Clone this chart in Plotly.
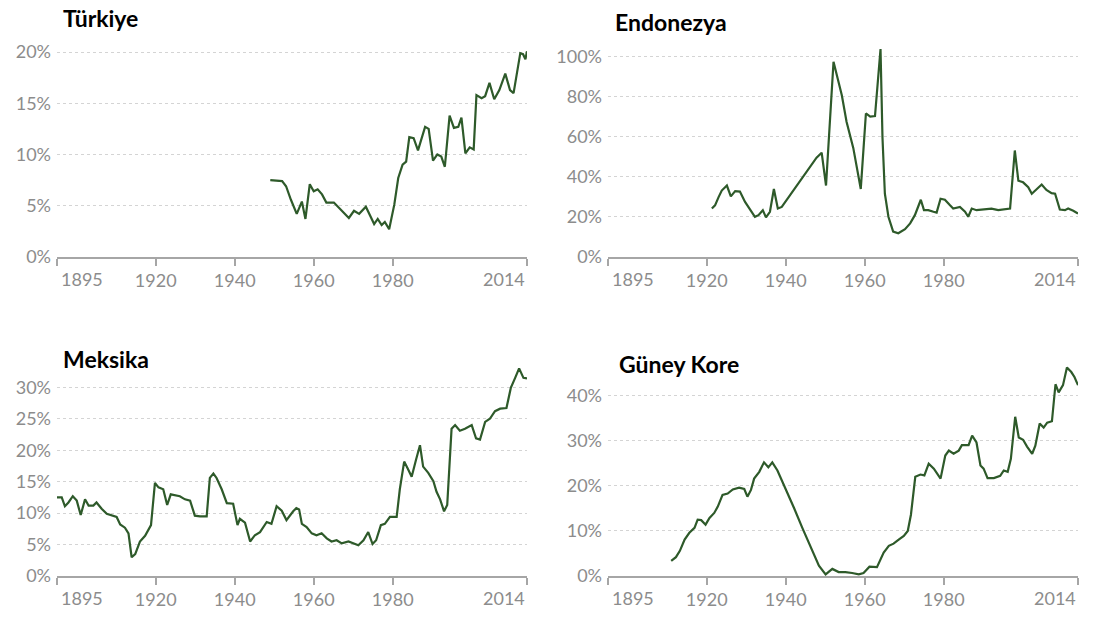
import plotly.graph_objects as go

# ---------------- data (values in %) ----------------
turkiye_years = [1949, 1952, 1953, 1954.2, 1955.7, 1957, 1957.9, 1959, 1960, 1961, 1962.1, 1963.2, 1965.1,
                 1966.8, 1968.9, 1970.2, 1971.5, 1973.2, 1974.5, 1975.3, 1976.2, 1977.2, 1978, 1979.1,
                 1980.4, 1981.4, 1982.5, 1983.4, 1984.2, 1985.3, 1986.4, 1987.2, 1988.2, 1989.1, 1990.2,
                 1991.3, 1992.3, 1993.2, 1994.4, 1995.5, 1996.6, 1997.4, 1998.4, 1999.5, 2000.5, 2001.2,
                 2002.5, 2003.4, 2004.5, 2005.7, 2007, 2008.5, 2009.7, 2010.6, 2012.3, 2013, 2013.6, 2014]
turkiye_vals = [7.5, 7.4, 6.9, 5.6, 4.2, 5.4, 3.7, 7.1, 6.4, 6.6, 6.1, 5.3, 5.3,
                4.6, 3.8, 4.5, 4.2, 4.9, 3.8, 3.2, 3.7, 3.1, 3.4, 2.7,
                5.1, 7.7, 9.0, 9.3, 11.7, 11.6, 10.4, 11.5, 12.7, 12.5, 9.4,
                10.0, 9.8, 8.8, 13.8, 12.6, 12.7, 13.6, 10.1, 10.7, 10.5, 15.8,
                15.5, 15.7, 17.0, 15.4, 16.3, 17.9, 16.3, 16.0, 19.9, 19.8, 19.3, 20.1]

endonezya_years = [1921.3, 1922.1, 1923, 1923.8, 1925.1, 1926.1, 1927.2, 1928.4, 1929.7, 1931, 1932.2,
                   1933.1, 1934.2, 1935, 1936, 1937, 1938, 1939, 1941.1, 1943.6, 1946.2, 1947.8, 1949.1,
                   1950.2, 1952.1, 1953.2, 1954.2, 1955.4, 1957.1, 1959, 1960.3, 1961.4, 1962.6, 1964,
                   1964.5, 1965.1, 1966, 1967.2, 1968.5, 1970.2, 1971.5, 1972.7, 1974.2, 1975, 1976.1,
                   1977.4, 1978.2, 1979.2, 1980.3, 1981.6, 1982.4, 1984.1, 1985.4, 1986.2, 1987.1, 1988.3,
                   1990, 1992.1, 1993.8, 1995.5, 1996.8, 1998, 1998.9, 2000.1, 2001.4, 2002.3, 2003.5,
                   2004.8, 2006, 2007.3, 2008.2, 2009.4, 2010.7, 2011.5, 2012.8, 2014]
endonezya_vals = [24.1, 25.7, 29.8, 33.1, 35.6, 30.2, 32.8, 32.6, 27.4, 23.3, 20.0,
                  20.8, 23.3, 19.7, 22.5, 33.9, 24.1, 24.9, 30.7, 38.0, 44.6, 49.5, 52.0,
                  35.6, 97.4, 88.9, 80.7, 67.5, 54.4, 33.9, 71.6, 70.0, 70.3, 103.8,
                  59.3, 31.5, 20.0, 12.6, 11.8, 13.8, 16.7, 20.8, 28.5, 23.3, 23.3,
                  22.5, 22.1, 29.0, 28.5, 25.7, 24.1, 24.9, 22.5, 20.0, 24.1, 23.3,
                  23.6, 24.1, 23.3, 23.6, 24.1, 53.1, 38.0, 37.2, 34.8, 31.5, 33.9,
                  36.1, 33.4, 31.8, 31.5, 23.6, 23.3, 24.1, 23.0, 21.6]

meksika_years = [1895, 1896.2, 1897, 1897.9, 1899, 1900, 1901, 1902.1, 1903, 1904.2, 1905, 1906.3,
                 1907.6, 1908.8, 1910.1, 1911, 1912.2, 1913.1, 1913.9, 1914.8, 1916, 1917.3, 1918.8,
                 1919.8, 1920.7, 1921.9, 1922.9, 1923.8, 1924.9, 1926.1, 1927.4, 1928.7, 1929.9,
                 1931.2, 1932.9, 1933.7, 1934.6, 1935.4, 1936.7, 1938, 1939.6, 1940.7, 1941.3, 1942.6,
                 1943.9, 1945.1, 1946.4, 1948.1, 1949.3, 1950.6, 1951.9, 1953.1, 1954.8, 1955.6,
                 1956.3, 1957, 1958.2, 1959.5, 1960.7, 1962, 1963.3, 1964.5, 1965.8, 1967.1, 1968.8,
                 1970, 1971.3, 1972.6, 1973.8, 1974.9, 1975.8, 1977, 1978, 1979.3, 1981, 1981.8,
                 1982.9, 1983.7, 1984.8, 1985.9, 1986.9, 1987.7, 1989, 1990.3, 1991.1, 1992, 1993,
                 1993.8, 1994.9, 1995.8, 1997, 1998.3, 2000, 2001.1, 2002.1, 2003.4, 2004.6, 2005.9,
                 2007.2, 2008.8, 2009.9, 2011, 2012, 2013.1, 2014]
meksika_vals = [12.5, 12.5, 11.1, 11.7, 12.7, 12.0, 9.7, 12.2, 11.2, 11.2, 11.7, 10.7,
                9.9, 9.6, 9.4, 8.2, 7.7, 6.8, 3.0, 3.5, 5.5, 6.4, 8.1,
                14.8, 14.1, 13.8, 11.3, 13.0, 12.9, 12.7, 12.2, 12.0, 9.6,
                9.5, 9.5, 15.6, 16.3, 15.6, 13.8, 11.6, 11.5, 8.1, 9.1, 8.5,
                5.5, 6.5, 7.0, 8.6, 8.3, 11.1, 10.4, 8.9, 10.3, 10.8,
                10.6, 8.3, 7.8, 6.8, 6.5, 6.8, 6.0, 5.5, 5.7, 5.2, 5.5,
                5.2, 4.9, 5.7, 7.0, 5.1, 5.7, 8.1, 8.3, 9.4, 9.4, 13.8,
                18.2, 17.2, 15.8, 18.5, 20.8, 17.4, 16.4, 15.1, 13.4, 12.2, 10.3,
                11.3, 23.4, 24.0, 23.1, 23.4, 24.0, 21.9, 21.7, 24.5, 25.0, 26.2,
                26.6, 26.7, 29.9, 31.5, 33.0, 31.5, 31.4]

kore_years = [1911, 1912.2, 1913.2, 1914.4, 1915.6, 1916.9, 1917.7, 1918.6, 1919.7, 1920.7, 1921.9,
              1922.8, 1924, 1925.3, 1926.6, 1928.2, 1929.5, 1930.3, 1931.2, 1932, 1933.3, 1934.5,
              1935.6, 1936.6, 1937.9, 1940, 1942.1, 1944.2, 1946.3, 1948.4, 1950.1, 1951.8, 1953.4,
              1955.1, 1956.8, 1958.5, 1959.7, 1961.2, 1963.1, 1964.8, 1966.1, 1967.3, 1968.6, 1969.9,
              1970.9, 1971.7, 1972.8, 1974.1, 1975.1, 1976.2, 1977.5, 1979.2, 1980.4, 1981.3, 1982.5,
              1983.8, 1984.6, 1986.3, 1987.2, 1988.3, 1989.3, 1990.1, 1991.1, 1992.7, 1994.3, 1995.2,
              1996.2, 1997, 1998.1, 1999, 2000.1, 2001.1, 2002.4, 2003.2, 2004.3, 2005.3, 2006.2,
              2007.4, 2008.3, 2009.1, 2010.2, 2011.2, 2012.3, 2013.1, 2014]
kore_vals = [3.4, 4.2, 5.6, 8.1, 9.6, 10.7, 12.5, 12.4, 11.4, 12.9, 14.0,
             15.4, 18.0, 18.3, 19.2, 19.6, 19.3, 17.6, 19.1, 21.6, 23.1, 25.2,
             24.1, 25.2, 23.4, 19.4, 15.1, 10.7, 6.3, 2.3, 0.4, 1.6, 0.9,
             0.9, 0.7, 0.4, 0.7, 2.1, 2.0, 5.2, 6.7, 7.2, 8.1, 8.9,
             10.0, 13.6, 22.0, 22.5, 22.3, 24.9, 23.8, 21.6, 26.7, 27.8, 27.1,
             27.8, 29.0, 29.0, 31.1, 29.6, 24.5, 23.8, 21.7, 21.7, 22.2, 23.4,
             23.1, 26.0, 35.3, 30.7, 30.2, 28.7, 27.1, 28.9, 33.8, 32.9, 34.0,
             34.3, 42.5, 40.7, 42.3, 46.2, 45.2, 44.1, 42.3]

titles = ["Türkiye", "Endonezya", "Meksika", "Güney Kore"]
x_tickvals = [1895, 1920, 1940, 1960, 1980, 2014]
x_ticktext = ["", "1920", "1940", "1960", "1980", ""]
x_edge_labels = ["1895", "2014"]
y_ticks = [[0, 5, 10, 15, 20], [0, 20, 40, 60, 80, 100], [0, 5, 10, 15, 20, 25, 30], [0, 10, 20, 30, 40]]
y_max = [21.25, 108.6, 34.0, 47.4]

# ---------------- layout geometry ----------------
W, H = 1093, 625
x_dom = [[57 / W, 527 / W], [608 / W, 1078 / W], [57 / W, 527 / W], [608 / W, 1078 / W]]
y_dom = [[1 - 261 / H, 1 - 40 / H], [1 - 261 / H, 1 - 40 / H],
         [1 - 585.5 / H, 1 - 368 / H], [1 - 585.5 / H, 1 - 368 / H]]
title_pos = [(61, 18), (613, 22), (61, 365), (617, 370)]

series = [(turkiye_years, turkiye_vals), (endonezya_years, endonezya_vals),
          (meksika_years, meksika_vals), (kore_years, kore_vals)]

LINE = "#2e5a2a"
GRAY = "#8c8c8c"
AXIS = "#a6a6a6"
FONT = "Lato"

fig = go.Figure()
annotations = []
for i, (xs, ys) in enumerate(series):
    sfx = "" if i == 0 else str(i + 1)
    fig.add_trace(go.Scatter(x=xs, y=ys, mode="lines", line=dict(color=LINE, width=2.2),
                             xaxis="x" + sfx, yaxis="y" + sfx, showlegend=False, hoverinfo="skip"))
    fig.layout["xaxis" + sfx] = dict(
        domain=x_dom[i], anchor="y" + sfx, range=[1895, 2014], showgrid=False, zeroline=False,
        showline=True, linecolor=AXIS, linewidth=1.5, ticks="outside", ticklen=7, tickcolor=AXIS,
        tickwidth=1.5, tickmode="array", tickvals=x_tickvals, ticktext=x_ticktext,
        tickfont=dict(family=FONT, size=18, color=GRAY), fixedrange=True)
    fig.layout["yaxis" + sfx] = dict(
        domain=y_dom[i], anchor="x" + sfx, range=[0, y_max[i]], showgrid=True, gridcolor="#d4d4d4",
        griddash="dot", gridwidth=1, zeroline=False, showline=False, ticks="",
        tickmode="array", tickvals=y_ticks[i], ticktext=[f"{v}%" for v in y_ticks[i]],
        ticklabelstandoff=5,
        tickfont=dict(family=FONT, size=18, color=GRAY), fixedrange=True)
    # edge year labels
    annotations.append(dict(x=1895, y=0, xref="x" + sfx, yref="y" + sfx + " domain", text=x_edge_labels[0],
                            showarrow=False, xanchor="left", yanchor="top", xshift=2, yshift=-9,
                            font=dict(family=FONT, size=18, color=GRAY)))
    annotations.append(dict(x=2014, y=0, xref="x" + sfx, yref="y" + sfx + " domain", text=x_edge_labels[1],
                            showarrow=False, xanchor="right", yanchor="top", xshift=0, yshift=-9,
                            font=dict(family=FONT, size=18, color=GRAY)))
    tx, ty = title_pos[i]
    annotations.append(dict(x=tx / W, y=1 - ty / H, xref="paper", yref="paper", text="<b>" + titles[i] + "</b>",
                            showarrow=False, xanchor="left", yanchor="middle",
                            font=dict(family=FONT, size=23, color="#000000")))

fig.update_layout(width=W, height=H, margin=dict(l=0, r=0, t=0, b=0), autosize=False,
                  paper_bgcolor="white", plot_bgcolor="white", annotations=annotations,
                  showlegend=False)

fig.write_html("out.html", config={"displayModeBar": False},
               post_script="document.body.style.margin='0';")
